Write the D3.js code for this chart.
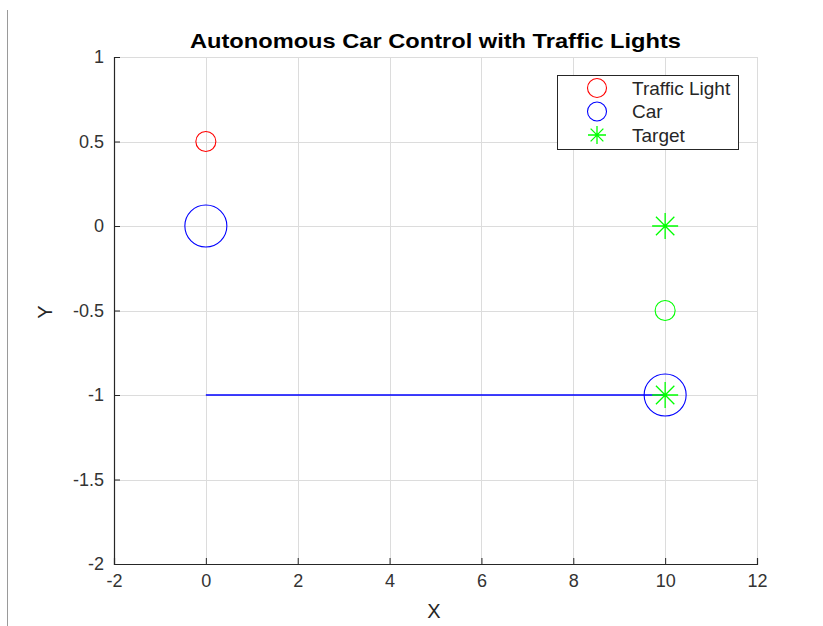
<!DOCTYPE html>
<html>
<head>
<meta charset="utf-8">
<script src="https://cdn.jsdelivr.net/npm/d3@7"></script>
<style>
  html, body { margin: 0; padding: 0; background: #fff; }
  svg { display: block; font-family: "Liberation Sans", Arial, sans-serif; }
</style>
</head>
<body>
<svg id="chart" width="823" height="626"></svg>
<script>
// Scene data
const xTicks = [-2, 0, 2, 4, 6, 8, 10, 12];
const yTicks = [-2, -1.5, -1, -0.5, 0, 0.5, 1];
const trafficLightRed = [{ x: 0, y: 0.5 }];
const trafficLightGreen = [{ x: 10, y: -0.5 }];
const carPositions = [{ x: 0, y: 0 }, { x: 10, y: -1 }];
const targetPositions = [{ x: 10, y: 0 }, { x: 10, y: -1 }];
const carPath = [{ x: 0, y: -1 }, { x: 10, y: -1 }];
const legendLabels = ["Traffic Light", "Car", "Target"];

const svg = d3.select("#chart");
const margin = { left: 114, right: 66, top: 57, bottom: 62 };
const W = 823, H = 626;

const x = d3.scaleLinear().domain([-2, 12]).range([margin.left, W - margin.right]);
const y = d3.scaleLinear().domain([-2, 1]).range([H - margin.bottom, margin.top]);

// plain hyphen for negative numbers
const fmt = d => String(d);

// page edge line on the left
svg.append("line").attr("x1", 7.5).attr("x2", 7.5).attr("y1", 10).attr("y2", 626)
  .attr("stroke", "#9a9a9a").attr("stroke-width", 1);

// grid
const grid = svg.append("g").attr("stroke", "#dcdcdc").attr("stroke-width", 1);
grid.selectAll(".gx").data(xTicks.slice(1)).join("line")
  .attr("x1", d => Math.round(x(d)) + 0.5).attr("x2", d => Math.round(x(d)) + 0.5)
  .attr("y1", y(1)).attr("y2", y(-2));
grid.selectAll(".gy").data(yTicks.slice(1)).join("line")
  .attr("y1", d => Math.round(y(d)) + 0.5).attr("y2", d => Math.round(y(d)) + 0.5)
  .attr("x1", x(-2)).attr("x2", x(12));

// axes with inward ticks
const xAxis = d3.axisBottom(x).tickValues(xTicks).tickSize(-6).tickPadding(9).tickFormat(fmt);
const yAxis = d3.axisLeft(y).tickValues(yTicks).tickSize(-6).tickPadding(10).tickFormat(fmt);

const gx = svg.append("g").attr("transform", `translate(0,${y(-2)})`).call(xAxis);
const gy = svg.append("g").attr("transform", `translate(${x(-2)},0)`).call(yAxis);
[gx, gy].forEach(g => {
  g.select(".domain").attr("stroke", "#262626").attr("stroke-width", 1.2);
  g.selectAll(".tick line").attr("stroke", "#262626");
  g.selectAll(".tick text").attr("fill", "#333").attr("font-size", 18)
    .attr("font-family", "'Liberation Sans', Arial, sans-serif");
});
gx.selectAll(".tick text").attr("dy", "0.8em");

// axis labels
svg.append("text").attr("x", 434).attr("y", 618).attr("text-anchor", "middle")
  .attr("font-size", 20).attr("fill", "#262626").text("X");
svg.append("text").attr("transform", "translate(52,312) rotate(-90)").attr("text-anchor", "middle")
  .attr("font-size", 20).attr("fill", "#262626").text("Y");

// title
svg.append("text").attr("x", 190).attr("y", 48)
  .attr("font-size", 21).attr("font-weight", "bold").attr("fill", "#000")
  .attr("textLength", 491).attr("lengthAdjust", "spacingAndGlyphs")
  .text("Autonomous Car Control with Traffic Lights");

// car trajectory
svg.append("path").datum(carPath)
  .attr("d", d3.line().x(d => x(d.x)).y(d => y(d.y)))
  .attr("stroke", "#0000ff").attr("stroke-width", 1.5).attr("fill", "none");

const plot = svg.append("g");
function circles(data, r, color) {
  plot.selectAll(null).data(data).join("circle")
    .attr("cx", d => x(d.x)).attr("cy", d => y(d.y)).attr("r", r)
    .attr("fill", "none").attr("stroke", color).attr("stroke-width", 1.1);
}
function starPath(cx, cy, r) {
  let p = "";
  for (let i = 0; i < 4; i++) {
    const a = i * Math.PI / 4;
    const dx = r * Math.cos(a), dy = r * Math.sin(a);
    p += `M${cx - dx},${cy - dy}L${cx + dx},${cy + dy}`;
  }
  return p;
}
function stars(data, r, color) {
  plot.selectAll(null).data(data).join("path")
    .attr("d", d => starPath(x(d.x), y(d.y), r))
    .attr("stroke", color).attr("stroke-width", 1.3).attr("fill", "none");
}
circles(trafficLightRed, 10, "#ff0000");
circles(trafficLightGreen, 10, "#00ff00");
circles(carPositions, 21, "#0000ff");
stars(targetPositions, 13, "#00ff00");

// legend
const lg = svg.append("g");
lg.append("rect").attr("x", 557.5).attr("y", 75.5).attr("width", 181).attr("height", 74)
  .attr("fill", "#fff").attr("stroke", "#262626").attr("stroke-width", 1);
const legendColors = ["#ff0000", "#0000ff", "#00ff00"];
legendLabels.forEach((label, i) => {
  const cy = 88 + i * 23.5;
  if (i < 2) {
    lg.append("circle").attr("cx", 597).attr("cy", cy).attr("r", 9.5)
      .attr("fill", "none").attr("stroke", legendColors[i]).attr("stroke-width", 1.1);
  } else {
    lg.append("path").attr("d", starPath(597, cy, 9))
      .attr("stroke", legendColors[i]).attr("stroke-width", 1.3).attr("fill", "none");
  }
  lg.append("text").attr("x", 632).attr("y", cy).attr("dy", "0.35em")
    .attr("font-size", 19).attr("fill", "#262626").text(label);
});
</script>
</body>
</html>
